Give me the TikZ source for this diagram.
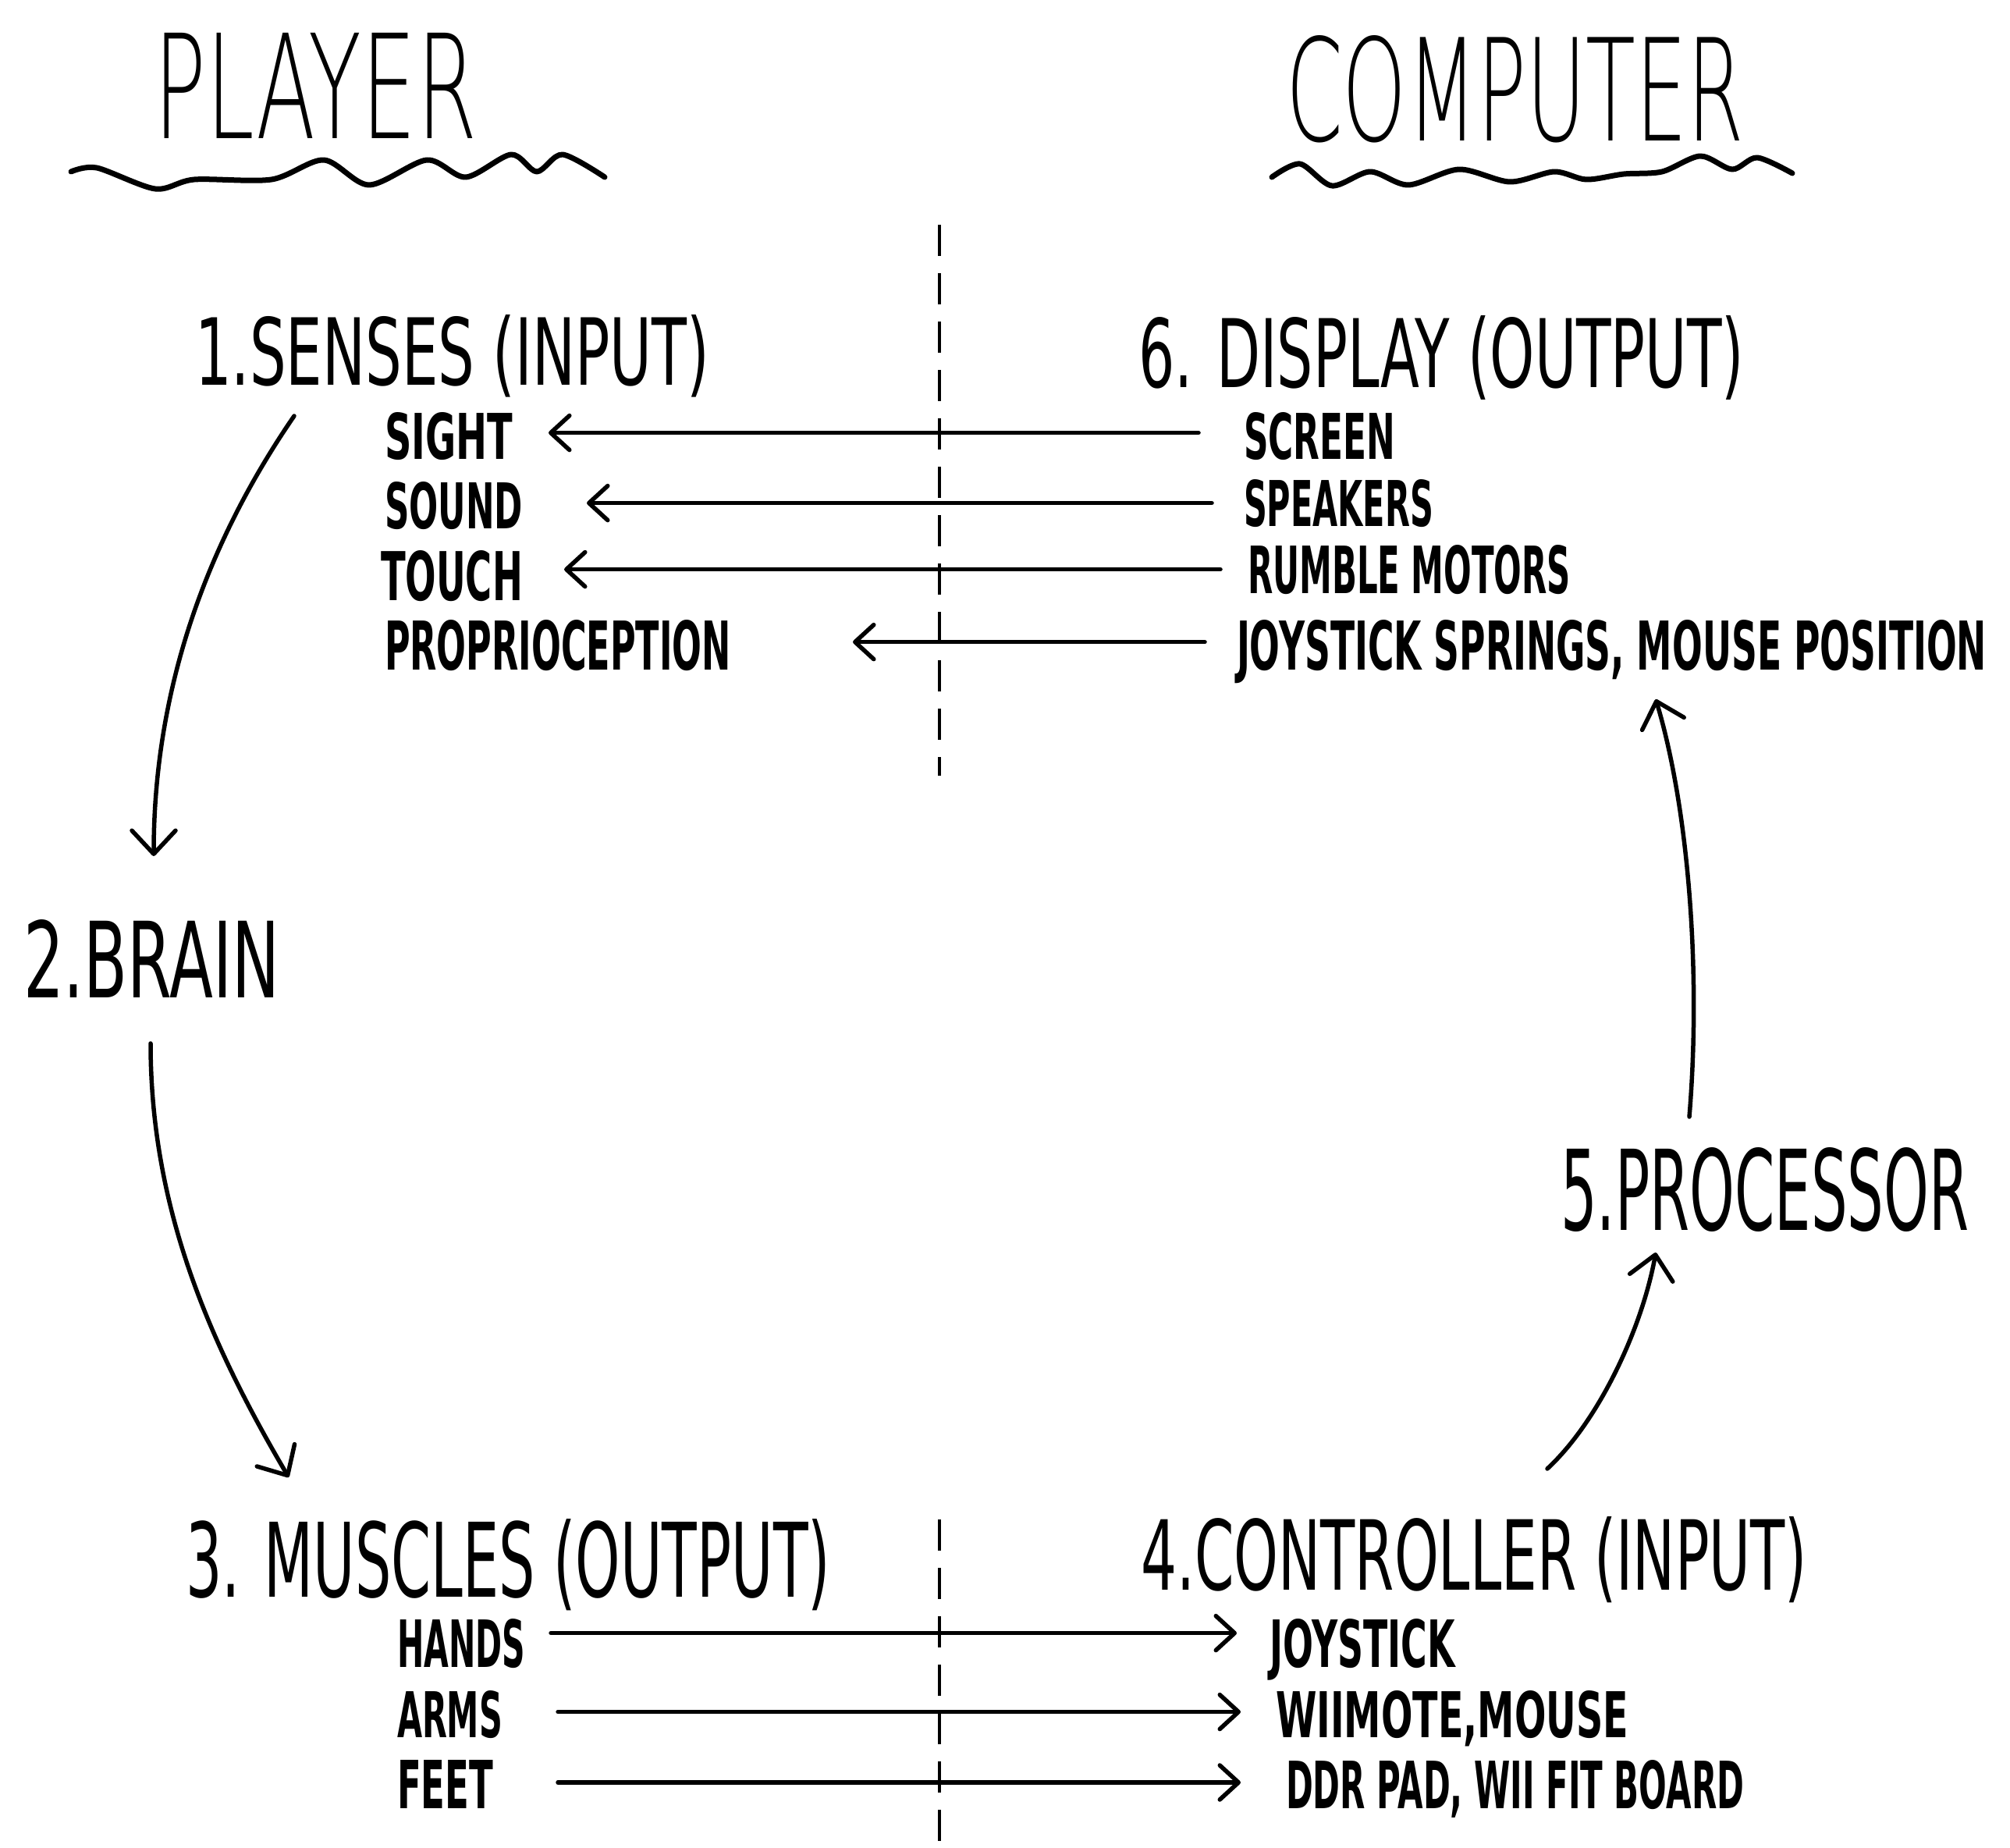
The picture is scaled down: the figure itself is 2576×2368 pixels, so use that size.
\documentclass[tikz,border=0pt]{standalone}
\usepackage{fontspec}
\usepackage{graphicx}
\setmainfont{DejaVu Sans}
\IfFontExistsTF{DejaVu Sans ExtraLight}{\newfontfamily\thinfont{DejaVu Sans ExtraLight}}{\newfontfamily\thinfont{DejaVu Sans}}
\usetikzlibrary{arrows.meta}
\newcommand\fitbox[3]{\resizebox{#1pt}{#2pt}{#3}}
\begin{document}
\begin{tikzpicture}[x=1pt,y=-1pt,
  lbl/.style={inner sep=0pt, outer sep=0pt, anchor=base west},
  titletext/.style={lbl, font=\thinfont},
  headtext/.style={lbl, font=\mdseries},
  itemtext/.style={lbl, font=\bfseries},
  harrow/.style={line width=5.5pt, line cap=round, -{Straight Barb[length=24pt,width=44pt,round]}},
  carrow/.style={line width=5.5pt, line cap=round, -{Straight Barb[length=30pt,width=56pt,round]}},
  wave/.style={line width=7pt, line cap=round, line join=round},
  divider/.style={line width=3.5pt, dash pattern=on 40pt off 22pt}]
\useasboundingbox (0,0) rectangle (2576,2368);
\fill[white] (0,0) rectangle (2576,2368);

% titles
\node[titletext] (player) at (197,178) {\fitbox{414}{135}{PLAYER}};
\node[titletext] (computer) at (1648,181) {\fitbox{587}{135}{COMPUTER}};
\draw[wave] plot[smooth, tension=0.5] coordinates {(91,220) (124,215) (199,242) (249,230) (348,230) (415,205) (473,237) (547,205) (597,227) (655,198) (688,220) (721,198) (775,227)};
\draw[wave] plot[smooth, tension=0.5] coordinates {(1630,227) (1666,210) (1707,238) (1756,220) (1805,237) (1870,217) (1935,233) (1992,220) (2033,230) (2081,223) (2130,220) (2179,200) (2220,217) (2252,202) (2297,222)};

% divider
\draw[divider] (1204,288) -- (1204,994);
\draw[divider] (1204,1947) -- (1204,2368);

% stage headings
\node[headtext] (senses) at (250,493) {\fitbox{659}{90}{1.SENSES (INPUT)}};
\node[headtext] (display) at (1459,496) {\fitbox{776}{92}{6. DISPLAY (OUTPUT)}};
\node[headtext] (brain) at (30,1278) {\fitbox{328}{100}{2.BRAIN}};
\node[headtext] (processor) at (2000,1576) {\fitbox{523}{106}{5.PROCESSOR}};
\node[headtext] (muscles) at (238,2046) {\fitbox{826}{100}{3. MUSCLES (OUTPUT)}};
\node[headtext] (controller) at (1462,2037) {\fitbox{854}{94}{4.CONTROLLER (INPUT)}};

% senses items
\node[itemtext] (sight) at (493,588) {\fitbox{164}{60}{SIGHT}};
\node[itemtext] (sound) at (493,677) {\fitbox{177}{60}{SOUND}};
\node[itemtext] (touch) at (488,769) {\fitbox{182}{64}{TOUCH}};
\node[itemtext] (proprio) at (493,858) {\fitbox{444}{64}{PROPRIOCEPTION}};
% display items
\node[itemtext] (screen) at (1594,588) {\fitbox{194}{60}{SCREEN}};
\node[itemtext] (speakers) at (1594,674) {\fitbox{243}{60}{SPEAKERS}};
\node[itemtext] (rumble) at (1599,760) {\fitbox{414}{62}{RUMBLE MOTORS}};
\node[itemtext] (springs) at (1585,858) {\fitbox{961}{64}{JOYSTICK SPRINGS, MOUSE POSITION}};
% muscles items
\node[itemtext] (hands) at (509,2136) {\fitbox{164}{62}{HANDS}};
\node[itemtext] (arms) at (509,2226) {\fitbox{135}{60}{ARMS}};
\node[itemtext] (feet) at (509,2317) {\fitbox{123}{62}{FEET}};
% controller items
\node[itemtext] (joystick) at (1627,2136) {\fitbox{238}{62}{JOYSTICK}};
\node[itemtext] (wiimote) at (1635,2226) {\fitbox{452}{60}{WIIMOTE,MOUSE}};
\node[itemtext] (ddr) at (1648,2317) {\fitbox{587}{62}{DDR PAD, WII FIT BOARD}};

% horizontal arrows, computer -> player
\draw[harrow, shorten <=58pt, shorten >=46pt] ([yshift=4pt]screen.west) -- ([yshift=4pt]sight.east |- screen.west);
\draw[harrow, shorten <=41pt, shorten >=82pt] (speakers.west) -- (sound.east |- speakers.west);
\draw[harrow, shorten <=35pt, shorten >=53pt] (rumble.west) -- (touch.east |- rumble.west);
\draw[harrow, shorten <=41pt, shorten >=156pt] ([yshift=12pt]springs.west) -- ([yshift=12pt]proprio.east |- springs.west);
% horizontal arrows, player -> computer
\draw[harrow, shorten <=33pt, shorten >=42pt] ([yshift=13pt]hands.east) -- ([yshift=13pt]joystick.west |- hands.east);
\draw[harrow, shorten <=71pt, shorten >=45pt] ([yshift=3pt]arms.east) -- ([yshift=3pt]wiimote.west |- arms.east);
\draw[harrow, shorten <=83pt, shorten >=58pt] ([yshift=2pt]feet.east) -- ([yshift=2pt]ddr.west |- feet.east);

% loop arrows
\draw[carrow] ([shift={(127,40)}]senses.base west) .. controls (267,693) and (197,880) .. ([shift={(167,-181)}]brain.base west);
\draw[carrow] ([shift={(163,59)}]brain.base west) .. controls (193,1550) and (270,1723) .. ([shift={(132,-153)}]muscles.base west);
\draw[carrow] ([shift={(521,-155)}]controller.base west) .. controls (2050,1820) and (2105,1700) .. ([shift={(122,29)}]processor.base west);
\draw[carrow] ([shift={(165,-145)}]processor.base west) .. controls (2180,1250) and (2165,1040) .. ([shift={(537,38)}]springs.base west);
\end{tikzpicture}
\end{document}
